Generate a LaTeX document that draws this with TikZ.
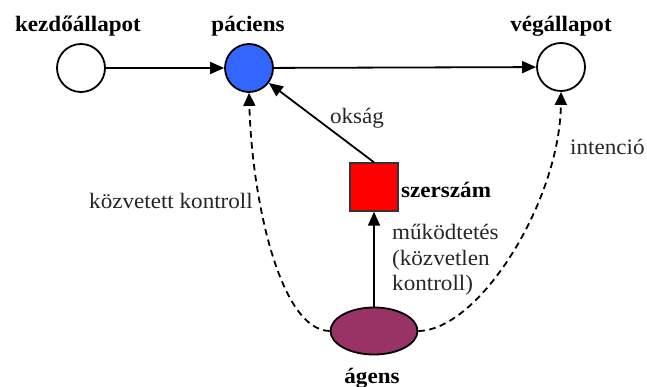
\documentclass[tikz,border=0pt]{standalone}
\usepackage{fontspec}
\setmainfont[FakeStretch=1.05]{Liberation Serif}
\usetikzlibrary{arrows.meta,shapes.geometric}

\definecolor{patientblue}{HTML}{3366FF}
\definecolor{toolred}{HTML}{FF0000}
\definecolor{agentplum}{HTML}{993366}
\definecolor{labelgray}{HTML}{262626}

\tikzset{
  state/.style={circle, draw=black, line width=1.8pt, minimum size=48pt, inner sep=0pt},
  toolbox/.style={rectangle, draw=black!80, line width=1.4pt, fill=toolred, minimum size=48pt, inner sep=0pt},
  agentshape/.style={ellipse, draw=black, line width=1.8pt, fill=agentplum, minimum width=87pt, minimum height=47pt, inner sep=0pt},
  title/.style={font=\fontsize{22}{26}\selectfont\bfseries, text=black, inner sep=0pt},
  note/.style={font=\fontsize{22}{26}\selectfont, text=labelgray, inner sep=0pt},
  flow/.style={line width=1.8pt, -{Triangle[length=14pt,width=12pt]}},
  control/.style={line width=1.8pt, dash pattern=on 6.5pt off 4.5pt, -{Triangle[length=13pt,width=12pt]}}
}

\begin{document}
\begin{tikzpicture}[x=1pt, y=-1pt]
  \useasboundingbox (0,0) rectangle (647,387);

  % states and participants
  \node[state] (start) at (81,68) {};
  \node[state, fill=patientblue] (patient) at (249,68) {};
  \node[state] (goal) at (561,67) {};
  \node[toolbox] (tool) at (374,187) {};
  \node[agentshape] (agent) at (374,331) {};

  % titles
  \node[title, anchor=base] (startlbl) at (78,32) {kezdőállapot};
  \node[title, anchor=base] (patientlbl) at (248,32) {páciens};
  \node[title, anchor=base] (goallbl) at (561,32) {végállapot};
  \node[title, anchor=base west] (toollbl) at (401,198) {szerszám};
  \node[title, anchor=base] (agentlbl) at (372,383) {ágens};

  % main process
  \draw[flow] (start) -- (patient);
  \draw[flow] (patient) -- (goal);
  \draw[flow] (tool.north) -- (patient);
  \draw[flow] (agent.north) -- (tool.south);

  % control paths of the agent
  \draw[control] (agent.west) .. controls (280,330) and (252,200) .. (patient.south);
  \draw[control] (agent.east) .. controls (480,330) and (560,200) .. (goal.south);

  % edge labels
  \node[note, anchor=base] (cause) at (357,124) {okság};
  \node[note, anchor=base east] (indirect) at (253,209) {közvetett kontroll};
  \node[note, anchor=base west] (intent) at (570,155) {intenció};
  \node[note, anchor=base west] (act1) at (392,240) {működtetés};
  \node[note, anchor=base west] (act2) at (392,265) {(közvetlen};
  \node[note, anchor=base west] (act3) at (392,290) {kontroll)};
\end{tikzpicture}
\end{document}
